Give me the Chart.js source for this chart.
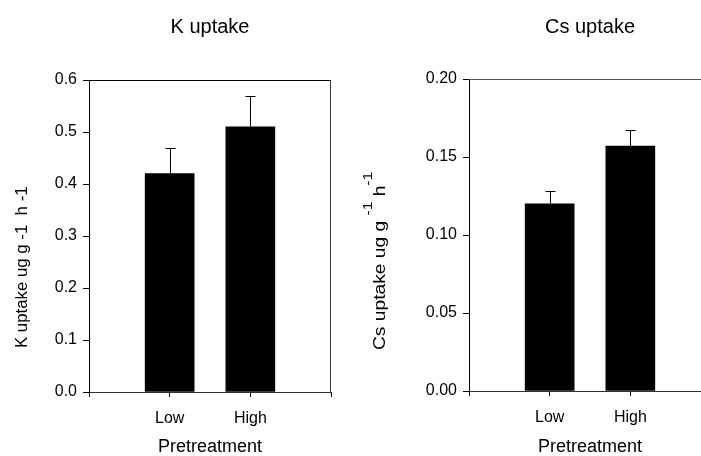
<!DOCTYPE html>
<html><head><meta charset="utf-8">
<script src="https://cdn.jsdelivr.net/npm/chart.js@4.4.0/dist/chart.umd.min.js"></script>
<style>
html,body{margin:0;padding:0;width:701px;height:456px;overflow:hidden;background:#fff;}
#wrapK{position:absolute;left:0;top:0;width:350px;height:456px;}
#wrapCs{position:absolute;left:350px;top:0;width:380px;height:456px;}
</style></head><body>
<div id="wrapK"><canvas id="k" width="350" height="456"></canvas></div>
<div id="wrapCs"><canvas id="cs" width="380" height="456"></canvas></div>
<script>
// ---- data ----
const categories = ['Low', 'High'];
const kUptake = [0.42, 0.51];
const kError = [0.05, 0.06];
const csUptake = [0.120, 0.157];
const csError = [0.008, 0.010];
const kTicks = ['0.0', '0.1', '0.2', '0.3', '0.4', '0.5', '0.6'];
const csTicks = ['0.00', '0.05', '0.10', '0.15', '0.20'];
const kTitle = 'K uptake';
const csTitle = 'Cs uptake';
const xTitle = 'Pretreatment';
const kYTitle = [{text: 'K uptake ug g -1  h -1', sup: false}];
const csYTitle = [
  {text: 'Cs uptake ug g ', sup: false},
  {text: '-1', sup: true},
  {text: ' h', sup: false},
  {text: '-1', sup: true}
];

const FAM = "'Liberation Sans', Arial, sans-serif";

const errorBars = {
  id: 'errorBars',
  afterDatasetsDraw(chart, args, o) {
    const meta = chart.getDatasetMeta(0);
    const ys = chart.scales.y;
    const ds = chart.data.datasets[0];
    const ctx = chart.ctx;
    ctx.save();
    ctx.strokeStyle = '#000';
    ctx.lineWidth = 1;
    meta.data.forEach((bar, i) => {
      const v = ds.data[i], e = ds.errors[i];
      if (v == null || e == null) return;
      const x = Math.round(bar.x) + 0.5;
      const y0 = ys.getPixelForValue(v);
      const y1 = Math.round(ys.getPixelForValue(v + e)) + 0.5;
      ctx.beginPath();
      ctx.moveTo(x, y0); ctx.lineTo(x, y1);
      ctx.moveTo(x - o.cap, y1); ctx.lineTo(x + o.cap, y1);
      ctx.stroke();
    });
    ctx.restore();
  }
};

const decor = {
  id: 'decor',
  afterDraw(chart, args, o) {
    const ctx = chart.ctx, a = chart.chartArea;
    ctx.save();
    ctx.lineWidth = 1;
    // frame top / right
    ctx.strokeStyle = o.topColor;
    ctx.beginPath(); ctx.moveTo(a.left, a.top + 0.5); ctx.lineTo(a.right, a.top + 0.5); ctx.stroke();
    ctx.strokeStyle = o.rightColor;
    ctx.beginPath(); ctx.moveTo(a.right - 0.5, a.top); ctx.lineTo(a.right - 0.5, a.bottom); ctx.stroke();
    // chart title
    ctx.fillStyle = '#000';
    ctx.font = `20px ${FAM}`;
    ctx.textAlign = 'center';
    ctx.textBaseline = 'middle';
    ctx.fillText(o.title, (a.left + a.right) / 2, o.titleY);
    // rotated y title with optional superscripts
    const t = o.yTitle;
    ctx.translate(a.left + t.dx, a.bottom + t.dy);
    ctx.rotate(-Math.PI / 2);
    ctx.scale(t.stretch, 1);
    ctx.textAlign = 'left';
    ctx.textBaseline = 'alphabetic';
    let pos = 0;
    for (const p of t.parts) {
      ctx.font = `${p.sup ? t.supSize : t.size}px ${FAM}`;
      ctx.fillText(p.text, pos, p.sup ? -t.supRaise : 0);
      pos += ctx.measureText(p.text).width;
    }
    ctx.restore();
  }
};

function makeChart(id, cfg) {
  const labels = ['', ...categories, ''];
  return new Chart(document.getElementById(id), {
    type: 'bar',
    data: {
      labels,
      datasets: [{
        data: [null, ...cfg.values, null],
        errors: [null, ...cfg.errors, null],
        backgroundColor: '#000',
        borderWidth: 0,
        barThickness: 49
      }]
    },
    options: {
      responsive: false,
      animation: false,
      devicePixelRatio: 1,
      layout: {padding: {left: 0, right: cfg.padRight, top: cfg.top, bottom: 0}},
      plugins: {
        legend: {display: false},
        tooltip: {enabled: false},
        title: {display: false},
        errorBars: {cap: 5},
        decor: {title: cfg.title, titleY: 27, yTitle: cfg.yTitle, topColor: cfg.topColor, rightColor: '#333'}
      },
      scales: {
        x: {
          type: 'category',
          offset: false,
          grid: {offset: false, drawOnChartArea: false, drawTicks: true, tickLength: 5, color: '#000'},
          border: {display: true, color: '#333', width: 1},
          ticks: {color: '#000', font: {family: FAM, size: 16}, padding: 12, maxRotation: 0, autoSkip: false},
          title: {display: true, text: xTitle, color: '#000', font: {family: FAM, size: 18}, padding: {top: 0, bottom: -2}},
          afterFit(s) { s.height = 456 - cfg.bottom; }
        },
        y: {
          min: 0, max: cfg.max,
          grid: {drawOnChartArea: false, drawTicks: true, tickLength: 6, color: '#000'},
          border: {display: true, color: '#000', width: 1},
          ticks: {stepSize: cfg.step, color: '#000', font: {family: FAM, size: 16}, padding: 6,
                  callback: (v, i) => cfg.ticks[i]},
          afterFit(s) { s.width = cfg.left; }
        }
      }
    },
    plugins: [errorBars, decor]
  });
}

makeChart('k', {
  values: kUptake, errors: kError, ticks: kTicks, max: 0.6, step: 0.1,
  title: kTitle, left: 89, padRight: 19, top: 80, bottom: 392, topColor: '#000',
  yTitle: {parts: kYTitle, size: 16, supSize: 11, supRaise: 13, stretch: 1.05, dx: -62, dy: -44}
});
makeChart('cs', {
  values: csUptake, errors: csError, ticks: csTicks, max: 0.2, step: 0.05,
  title: csTitle, left: 119, padRight: 19, top: 79, bottom: 391, topColor: '#555',
  yTitle: {parts: csYTitle, size: 16, supSize: 13, supRaise: 13, stretch: 1.2, dx: -84, dy: -41}
});
</script>
</body></html>
